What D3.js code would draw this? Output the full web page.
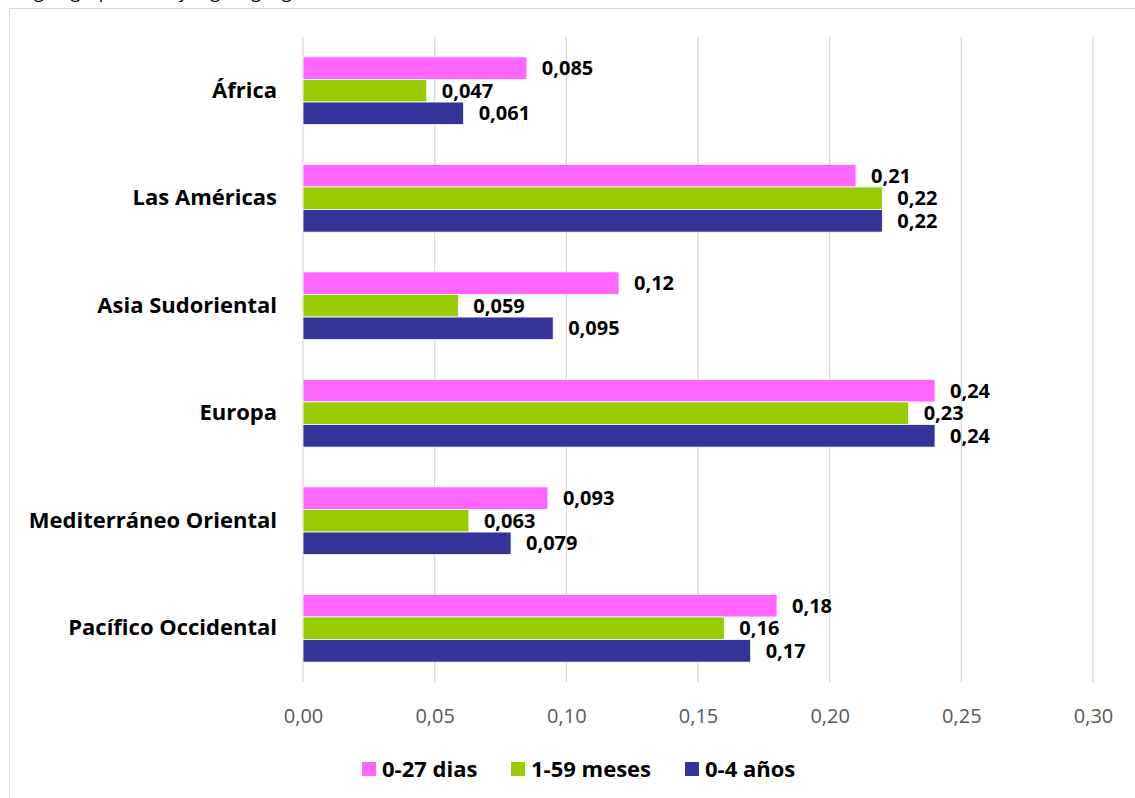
<!DOCTYPE html>
<html>
<head>
<meta charset="utf-8">
<script src="https://cdn.jsdelivr.net/npm/d3@7"></script>
<style>
  body { margin: 0; background: #fff; }
  svg { display: block; font-family: "Open Sans", "Noto Sans", sans-serif; }
</style>
</head>
<body>
<script>
//chart data
var regions = ["África", "Las Américas", "Asia Sudoriental", "Europa", "Mediterráneo Oriental", "Pacífico Occidental"];
var seriesNames = ["0-27 dias", "1-59 meses", "0-4 años"];
var colors = ["#ff66ff", "#99cc00", "#333399"];
var dias = [0.085, 0.21, 0.12, 0.24, 0.093, 0.18];
var meses = [0.047, 0.22, 0.059, 0.23, 0.063, 0.16];
var anos = [0.061, 0.22, 0.095, 0.24, 0.079, 0.17];
var ticks = [0, 0.05, 0.10, 0.15, 0.20, 0.25, 0.30];

var width = 1135, height = 798;

var svg = d3.select("body").append("svg")
    .attr("width", width)
    .attr("height", height);

//caption above the frame (mostly cut off, as in the source)
svg.append("text")
    .attr("x", 14).attr("y", -2)
    .style("font-size", "18px")
    .text("Según grupo etario y región geográfica");

//outer frame
svg.append("rect")
    .attr("x", 9.5).attr("y", 8.5)
    .attr("width", 1140).attr("height", 800)
    .attr("fill", "none")
    .attr("stroke", "#d9d9d9");

var x = d3.scaleLinear().domain([0, 0.30]).range([303, 1093]);
var y = d3.scaleBand().domain(regions).range([37, 682]).paddingInner(0.37).paddingOuter(0.185);
var ySub = d3.scaleBand().domain([0, 1, 2]).range([0, y.bandwidth()]);

//gridlines
svg.append("g").selectAll("line")
    .data(ticks)
    .enter().append("line")
    .attr("x1", function(d){ return x(d); })
    .attr("x2", function(d){ return x(d); })
    .attr("y1", 37).attr("y2", 682)
    .attr("stroke", "#d9d9d9")
    .attr("stroke-width", 1.3);

//x axis labels
var xAxis = d3.axisBottom(x)
    .tickValues(ticks)
    .tickSize(0)
    .tickPadding(0)
    .tickFormat(function(d){ return d3.format(".2f")(d).replace(".", ","); });
var gx = svg.append("g")
    .attr("transform", "translate(0,723)")
    .call(xAxis);
gx.select(".domain").remove();
gx.selectAll("text")
    .attr("dy", 0)
    .attr("fill", "#595959")
    .style("font-size", "20px")
    .style("font-family", "'Open Sans', sans-serif");

//category labels
var yAxis = d3.axisLeft(y).tickSize(0).tickPadding(26);
var gy = svg.append("g")
    .attr("transform", "translate(303,0)")
    .call(yAxis);
gy.select(".domain").remove();
gy.selectAll("text")
    .attr("fill", "#000")
    .style("font-size", "22px")
    .style("font-weight", "bold")
    .style("font-family", "'Open Sans', sans-serif");

//bars
var series = [dias, meses, anos];
var groups = svg.append("g").selectAll("g")
    .data(regions)
    .enter().append("g")
    .attr("transform", function(d){ return "translate(0," + y(d) + ")"; });

groups.selectAll("rect")
    .data(function(d, i){ return series.map(function(s, j){ return {k: j, v: s[i]}; }); })
    .enter().append("rect")
    .attr("x", x(0))
    .attr("y", function(d){ return ySub(d.k); })
    .attr("width", function(d){ return x(d.v) - x(0); })
    .attr("height", ySub.bandwidth())
    .attr("fill", function(d){ return colors[d.k]; })
    .attr("stroke", "#fff")
    .attr("stroke-width", 0.8);

groups.selectAll("text")
    .data(function(d, i){ return series.map(function(s, j){ return {k: j, v: s[i]}; }); })
    .enter().append("text")
    .attr("x", function(d){ return x(d.v) + 15; })
    .attr("y", function(d){ return ySub(d.k) + ySub.bandwidth() / 2; })
    .attr("dy", "0.35em")
    .style("font-size", "20px")
    .style("font-weight", "bold")
    .text(function(d){ return String(d.v).replace(".", ","); });

//legend
var legendX = [362, 511, 685];
var legend = svg.append("g").selectAll("g")
    .data(seriesNames)
    .enter().append("g")
    .attr("transform", function(d, i){ return "translate(" + legendX[i] + ",762)"; });
legend.append("rect")
    .attr("width", 14).attr("height", 14)
    .attr("fill", function(d, i){ return colors[i]; });
legend.append("text")
    .attr("x", 20).attr("y", 7)
    .attr("dy", "0.35em")
    .style("font-size", "22px")
    .style("font-weight", "bold")
    .text(function(d){ return d; });
</script>
</body>
</html>
